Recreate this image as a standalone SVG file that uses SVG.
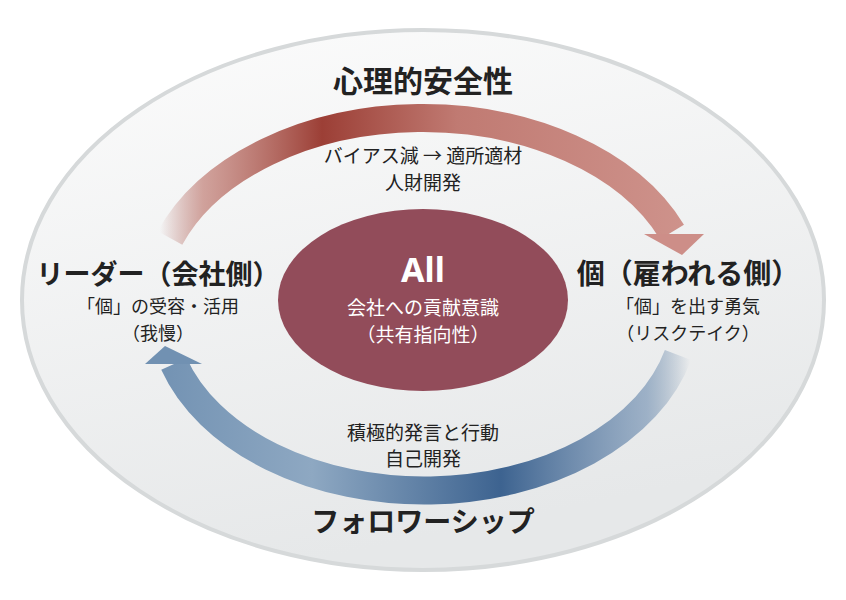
<svg xmlns="http://www.w3.org/2000/svg" width="846" height="600" viewBox="0 0 846 600">
<style>
text{font-family:"Noto Sans CJK JP","Noto Sans",sans-serif;text-anchor:middle;fill:#222}
.h{font-size:27px;font-weight:bold}
.s{font-size:18px}
.m{font-size:19px}
.w{fill:#fff}
</style>
<defs>
<linearGradient id="bg" x1="0" y1="0" x2="0.3" y2="1"><stop offset="0" stop-color="#fcfcfc"/><stop offset="1" stop-color="#e6e8e9"/></linearGradient>
<linearGradient id="red" gradientUnits="userSpaceOnUse" x1="160" y1="0" x2="700" y2="0"><stop offset="0" stop-color="#a0453a" stop-opacity="0"/><stop offset="0.08" stop-color="#b86a60" stop-opacity="0.6"/><stop offset="0.3" stop-color="#9c3f36"/><stop offset="0.55" stop-color="#c07a72"/><stop offset="1" stop-color="#cf948d"/></linearGradient>
<linearGradient id="blue" gradientUnits="userSpaceOnUse" x1="690" y1="0" x2="150" y2="0"><stop offset="0" stop-color="#3f6690" stop-opacity="0"/><stop offset="0.08" stop-color="#6a8aae" stop-opacity="0.6"/><stop offset="0.35" stop-color="#3d6390"/><stop offset="0.7" stop-color="#8ea8c2"/><stop offset="1" stop-color="#7191b2"/></linearGradient>
</defs>
<g id="outer"><ellipse cx="423" cy="300" rx="401" ry="270" fill="url(#bg)" stroke="#d6d9da" stroke-width="4"/></g>
<g id="connectors">
<path d="M170,238 A270 185 0 0 1 672,232" fill="none" stroke="url(#red)" stroke-width="28"/>
<polygon points="644,234 704,234 682,255" fill="#cd8e88"/>
<path d="M678,355 A262 180 0 0 1 174,364" fill="none" stroke="url(#blue)" stroke-width="28"/>
<polygon points="145,364 202,364 165,346" fill="#7191b2"/>
</g>
<g id="center"><ellipse cx="423" cy="300" rx="145" ry="91" fill="#924c5a"/>
<text x="423" y="282" class="w" style="font-size:34px;font-weight:bold;font-family:'Noto Sans',sans-serif">All</text>
<text x="423" y="315" class="w m">会社への貢献意識</text>
<text x="423" y="342" class="w m">（共有指向性）</text></g>
<g id="top"><text x="423" y="92" class="h" style="font-size:30px">心理的安全性</text>
<text x="423" y="163" class="m">バイアス減 → 適所適材</text>
<text x="423" y="190" class="m">人財開発</text></g>
<g id="bottom"><text x="423" y="532" class="h" style="font-size:28px">フォロワーシップ</text>
<text x="423" y="440" class="m">積極的発言と行動</text>
<text x="423" y="466" class="m">自己開発</text></g>
<g id="leader"><text x="158" y="284" class="h">リーダー（会社側）</text>
<text x="158" y="313" class="s">「個」の受容・活用</text>
<text x="158" y="340" class="s">（我慢）</text></g>
<g id="individual"><text x="688" y="284" class="h" style="font-size:28px">個（雇われる側）</text>
<text x="688" y="313" class="s">「個」を出す勇気</text>
<text x="688" y="340" class="s">（リスクテイク）</text></g>
</svg>
